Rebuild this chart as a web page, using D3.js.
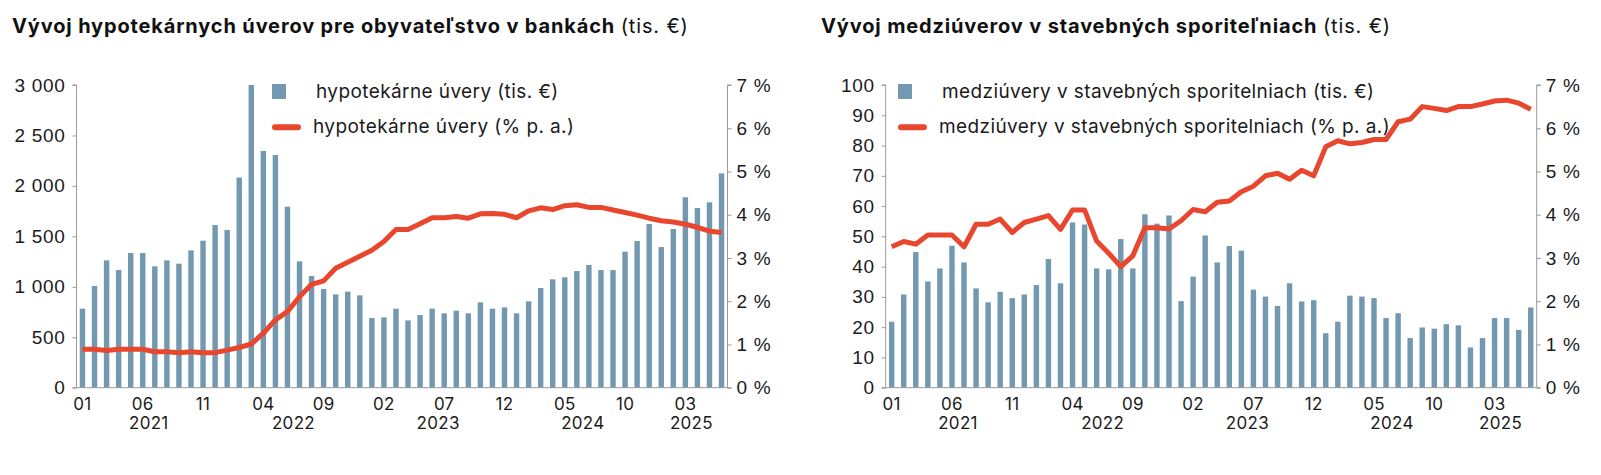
<!DOCTYPE html>
<html>
<head>
<meta charset="utf-8">
<script src="https://cdn.jsdelivr.net/npm/d3@7"></script>
<style>
  body { margin: 0; background: #fff; }
  svg { display: block; font-family: Inter, "DejaVu Sans", sans-serif; }
</style>
</head>
<body>
<svg id="chart" width="1601" height="475"></svg>
<script>
// monthly categories 01/2021 - 06/2025
const months = d3.timeMonths(new Date(2021, 0, 1), new Date(2025, 6, 1))

// hypotekarne uvery v bankach (tis. EUR)
const mortgageVolume = [
    783, 1008, 1262, 1166, 1335, 1335, 1203, 1262, 1229, 1361, 1457, 1612,
    1563, 2082, 3000, 2346, 2306, 1794, 1252, 1107, 978, 925, 952, 915,
    690, 697, 783, 667, 720, 783, 737, 763, 737, 846, 783, 796,
    737, 856, 988, 1074, 1094, 1156, 1216, 1166, 1166, 1348, 1454, 1622,
    1394, 1573, 1887, 1781, 1837, 2124
]
// hypotekarne uvery (% p. a.)
const mortgageRate = [
    0.89, 0.89, 0.86, 0.89, 0.89, 0.89, 0.83, 0.83, 0.81, 0.83, 0.81, 0.81,
    0.87, 0.93, 1.01, 1.26, 1.57, 1.76, 2.10, 2.39, 2.47, 2.76, 2.90, 3.04,
    3.18, 3.38, 3.66, 3.66, 3.79, 3.93, 3.93, 3.96, 3.92, 4.02, 4.03, 4.01,
    3.93, 4.09, 4.16, 4.12, 4.21, 4.23, 4.17, 4.17, 4.11, 4.05, 3.99, 3.92,
    3.86, 3.83, 3.78, 3.71, 3.62, 3.59
]
// medziuvery v stavebnych sporitelniach (tis. EUR)
const bridgeVolume = [
    21.8, 30.8, 44.8, 35.1, 39.4, 46.9, 41.4, 32.8, 28.2, 31.7, 29.6, 30.8,
    33.9, 42.5, 34.5, 54.6, 53.9, 39.4, 39.1, 49.1, 39.4, 57.3, 54.2, 56.9,
    28.6, 36.7, 50.3, 41.4, 46.8, 45.3, 32.4, 30.1, 27.0, 34.5, 28.5, 28.9,
    18.0, 21.8, 30.4, 30.1, 29.6, 23.0, 24.6, 16.4, 19.9, 19.5, 21.0, 20.6,
    13.3, 16.4, 23.0, 23.0, 19.1, 26.5
]
// medziuvery (% p. a.)
const bridgeRate = [
    3.26, 3.38, 3.32, 3.53, 3.53, 3.53, 3.26, 3.78, 3.78, 3.90, 3.59, 3.82,
    3.90, 3.98, 3.66, 4.11, 4.11, 3.39, 3.11, 2.80, 3.05, 3.70, 3.70, 3.67,
    3.86, 4.12, 4.07, 4.29, 4.32, 4.53, 4.66, 4.90, 4.96, 4.82, 5.03, 4.90,
    5.57, 5.71, 5.64, 5.67, 5.74, 5.74, 6.15, 6.21, 6.50, 6.46, 6.41, 6.50,
    6.50, 6.56, 6.63, 6.65, 6.58, 6.44
]

const mortgageTicks = [0, 500, 1000, 1500, 2000, 2500, 3000]
const bridgeTicks = [0, 10, 20, 30, 40, 50, 60, 70, 80, 90, 100]
const rateTicks = [0, 1, 2, 3, 4, 5, 6, 7]

const barColor = '#7399b0'
const lineColor = '#e8472e'
const axisColor = '#9a9a9a'
const textColor = '#1b1b1b'

const svg = d3.select('#chart')

drawPanel({
    left: 76.5, right: 727.5,
    titleX: 12,
    titleBold: 'Vývoj hypotekárnych úverov pre obyvateľstvo v bankách',
    volume: mortgageVolume, rate: mortgageRate,
    volMax: 3000, volTicks: mortgageTicks,
    volFormat: d => d3.format(',')(d).replace(/,/g, ' '),
    legendX: 272,
    legendBar: 'hypotekárne úvery (tis. €)',
    legendLine: 'hypotekárne úvery (% p. a.)'
})

drawPanel({
    left: 885.7, right: 1536.7,
    titleX: 821,
    titleBold: 'Vývoj medziúverov v stavebných sporiteľniach',
    volume: bridgeVolume, rate: bridgeRate,
    volMax: 100, volTicks: bridgeTicks,
    volFormat: d => String(d),
    legendX: 898,
    legendBar: 'medziúvery v stavebných sporitelniach (tis. €)',
    legendLine: 'medziúvery v stavebných sporitelniach (% p. a.)'
})

function drawPanel(cfg) {
    let top = 85
    let bottom = 387.7
    let g = svg.append('g')

    // title
    let title = g.append('text')
        .attr('x', cfg.titleX).attr('y', 33)
        .attr('fill', '#111')
        .style('font-size', '20px')
        .style('letter-spacing', '0.85px')
    title.append('tspan').attr('font-weight', 700).text(cfg.titleBold + ' ')
    title.append('tspan').attr('font-weight', 400).text('(tis. €)')

    let x = d3.scaleBand().domain(months).range([cfg.left, cfg.right]).paddingInner(0.55).paddingOuter(0.27)
    let yVol = d3.scaleLinear().domain([0, cfg.volMax]).range([bottom, top])
    let yRate = d3.scaleLinear().domain([0, 7]).range([bottom, top])

    // bars
    g.append('g').selectAll('rect')
        .data(cfg.volume)
        .join('rect')
        .attr('x', (d, i) => x(months[i]))
        .attr('width', x.bandwidth())
        .attr('y', d => yVol(d))
        .attr('height', d => bottom - yVol(d))
        .attr('fill', barColor)

    // left axis
    let leftAxis = g.append('g')
        .attr('transform', `translate(${cfg.left},0)`)
        .call(d3.axisLeft(yVol).tickValues(cfg.volTicks).tickFormat(cfg.volFormat).tickSize(4).tickPadding(7))
    // right axis
    let rightAxis = g.append('g')
        .attr('transform', `translate(${cfg.right},0)`)
        .call(d3.axisRight(yRate).tickValues(rateTicks).tickFormat(d => d + ' %').tickSize(4).tickPadding(5))

    for (let ax of [leftAxis, rightAxis]) {
        let s = ax === leftAxis ? -4 : 4
        ax.select('.domain').attr('stroke', axisColor).attr('d', `M${s},${top}H0V${bottom}H${s}`)
        ax.selectAll('.tick line').attr('stroke', axisColor)
        ax.selectAll('.tick text')
            .attr('fill', textColor)
            .attr('font-family', null)
            .attr('font-size', null)
            .style('font-size', '19px')
            .style('letter-spacing', '0.7px')
    }

    // baseline
    g.append('line')
        .attr('x1', cfg.left).attr('x2', cfg.right)
        .attr('y1', bottom).attr('y2', bottom)
        .attr('stroke', axisColor)

    // month labels every 5 months
    let tickMonths = months.filter((d, i) => i % 5 === 0)
    g.append('g').selectAll('text')
        .data(tickMonths)
        .join('text')
        .attr('x', d => x(d) + x.bandwidth() / 2)
        .attr('y', 410)
        .attr('text-anchor', 'middle')
        .attr('fill', textColor)
        .style('font-size', '17px')
        .style('letter-spacing', '0.3px')
        .text(d3.timeFormat('%m'))

    // year labels centered on each year's months
    let years = d3.groups(months, d => d.getFullYear())
    g.append('g').selectAll('text')
        .data(years)
        .join('text')
        .attr('x', ([yr, ms]) => (x(ms[0]) + x(ms[ms.length - 1]) + x.bandwidth()) / 2)
        .attr('y', 429)
        .attr('text-anchor', 'middle')
        .attr('fill', textColor)
        .style('font-size', '17px')
        .style('letter-spacing', '0.3px')
        .text(([yr]) => yr)

    // rate line
    let line = d3.line()
        .x((d, i) => x(months[i]) + x.bandwidth() / 2)
        .y(d => yRate(d))
    g.append('path')
        .datum(cfg.rate)
        .attr('fill', 'none')
        .attr('stroke', lineColor)
        .attr('stroke-width', 5)
        .attr('stroke-linejoin', 'round')
        .attr('d', line)

    // legend
    let lg = g.append('g')
    lg.append('rect')
        .attr('x', cfg.legendX).attr('y', 84)
        .attr('width', 14).attr('height', 15)
        .attr('fill', barColor)
    lg.append('text')
        .attr('x', cfg.legendX + 44).attr('y', 98)
        .attr('fill', textColor)
        .style('font-size', '19px')
        .style('letter-spacing', '0.4px')
        .text(cfg.legendBar)
    lg.append('line')
        .attr('x1', cfg.legendX + 3).attr('x2', cfg.legendX + 26)
        .attr('y1', 127.3).attr('y2', 127.3)
        .attr('stroke', lineColor).attr('stroke-width', 6)
        .attr('stroke-linecap', 'round')
    lg.append('text')
        .attr('x', cfg.legendX + 41).attr('y', 133)
        .attr('fill', textColor)
        .style('font-size', '19px')
        .style('letter-spacing', '0.4px')
        .text(cfg.legendLine)
}
</script>
</body>
</html>
